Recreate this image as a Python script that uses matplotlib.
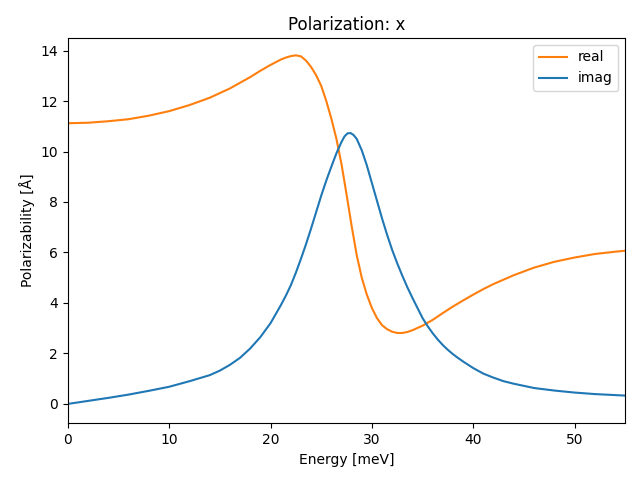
import numpy as np
import matplotlib
matplotlib.use('Agg')
import matplotlib.pyplot as plt

# values
energy_real = [0, 2, 4, 6, 8, 10, 12, 14, 16, 18, 19, 20, 21, 21.5, 22, 22.5, 23,
               23.5, 24, 24.5, 25, 25.5, 26, 26.5, 27, 27.5, 28, 28.5, 29, 29.5,
               30, 30.5, 31, 31.5, 32, 32.5, 33, 33.5, 34, 35, 36, 37, 38, 39, 40,
               41, 42, 44, 46, 48, 50, 52, 54, 55]
real = [11.12, 11.14, 11.2, 11.28, 11.42, 11.6, 11.84, 12.13, 12.5, 12.95, 13.2,
        13.43, 13.64, 13.72, 13.78, 13.81, 13.77, 13.6, 13.35, 13.02, 12.6, 12.0,
        11.3, 10.5, 9.5, 8.3, 7.05, 5.9, 5.0, 4.33, 3.8, 3.4, 3.12, 2.96,
        2.86, 2.81, 2.81, 2.85, 2.92, 3.1, 3.33, 3.6, 3.86, 4.1, 4.33, 4.55,
        4.75, 5.1, 5.4, 5.63, 5.8, 5.94, 6.03, 6.07]

energy_imag = [0, 2, 4, 6, 8, 10, 12, 14, 15, 16, 17, 18, 19, 20, 21, 21.5, 22,
               22.5, 23, 23.5, 24, 24.5, 25, 25.5, 26, 26.5, 27, 27.3, 27.6, 27.9,
               28.2, 28.5, 29, 29.5, 30, 30.5, 31, 31.5, 32, 32.5, 33, 33.5, 34,
               34.5, 35, 35.5, 36, 36.5, 37, 37.5, 38, 38.5, 39, 40, 41, 42, 43,
               44, 46, 48, 50, 52, 54, 55]
imag = [0.0, 0.12, 0.24, 0.37, 0.52, 0.68, 0.9, 1.14, 1.32, 1.55, 1.83, 2.2, 2.65,
        3.2, 3.9, 4.28, 4.7, 5.2, 5.75, 6.33, 6.95, 7.6, 8.25, 8.85, 9.4, 9.93,
        10.38, 10.6, 10.72, 10.73, 10.65, 10.5, 10.05, 9.45, 8.75, 8.05, 7.35,
        6.7, 6.1, 5.57, 5.08, 4.62, 4.2, 3.8, 3.4, 3.08, 2.8, 2.55, 2.33, 2.14,
        1.97, 1.82, 1.68, 1.42, 1.2, 1.04, 0.9, 0.8, 0.63, 0.53, 0.45, 0.39,
        0.35, 0.33]

fig, ax = plt.subplots(figsize=(6.4, 4.8), dpi=100)
ax.plot(energy_real, real, color='C1', label='real')
ax.plot(energy_imag, imag, color='C0', label='imag')
ax.set_xlim(0, 55)
ax.set_ylim(-0.77, 14.5)
ax.set_title('Polarization: x')
ax.set_xlabel('Energy [meV]')
ax.set_ylabel('Polarizability [Å]')
ax.legend(loc='upper right')
fig.subplots_adjust(left=0.106, right=0.977, top=0.921, bottom=0.118)
fig.savefig('out.png')
